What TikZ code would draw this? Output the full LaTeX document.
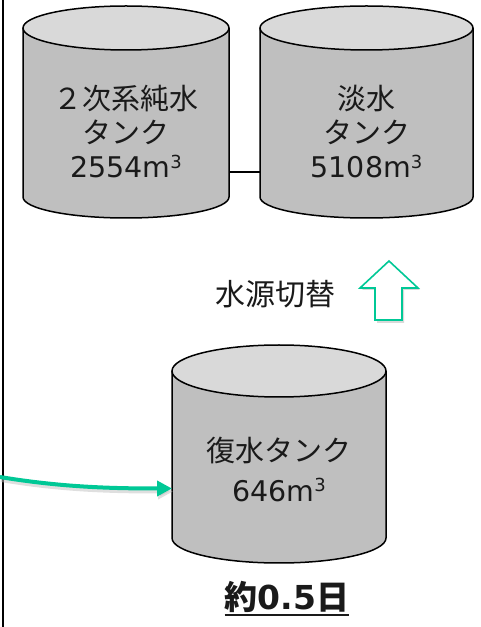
\documentclass[tikz,border=0pt]{standalone}
\usepackage{fontspec}
\setmainfont{Noto Sans CJK JP}
\newfontfamily\lat{DejaVu Sans}
\usetikzlibrary{arrows.meta}
\definecolor{tankbody}{HTML}{BFBFBF}
\definecolor{tanktop}{HTML}{D9D9D9}
\definecolor{mint}{HTML}{00C896}
\definecolor{txt}{HTML}{1A1A1A}
\tikzset{
  tankline/.style={draw=black, line width=1.5pt},
  tanktext/.style={text=txt, align=center, font=\fontsize{29}{34}\selectfont, inner sep=0pt},
  plaintext/.style={text=txt, font=\fontsize{30}{34}\selectfont, inner sep=0pt},
  flowarrow/.style={draw=mint, line width=4pt, -{Triangle[length=15pt,width=15pt]}},
}
\newcommand{\vol}[1]{{\lat\fontsize{28.5}{34}\selectfont #1m\raisebox{0.6ex}{\fontsize{18}{20}\selectfont 3}}}
% #1 name, #2 cx, #3 rx, #4 top cy, #5 top ry, #6 bottom cy, #7 bottom ry
\newcommand{\drawtank}[7]{%
  \fill[tankbody] (#2-#3,#4) -- (#2-#3,#6) arc[start angle=180,end angle=360,x radius=#3,y radius=#7] -- (#2+#3,#4) -- cycle;
  \draw[tankline] (#2-#3,#4) -- (#2-#3,#6) arc[start angle=180,end angle=360,x radius=#3,y radius=#7] -- (#2+#3,#4);
  \draw[tankline, fill=tanktop] (#2,#4) ellipse[x radius=#3, y radius=#5];
  \coordinate (#1-w) at (#2-#3,#6);
  \coordinate (#1-e) at (#2+#3,#6);
}
\begin{document}
\begin{tikzpicture}[x=1pt,y=1pt]
\useasboundingbox (0,0) rectangle (481,627);
% left border line
\coordinate (lt) at (3,627);
\coordinate (lb) at (3,0);
\draw[line width=1.6pt] (lt) -- (lb);
% tanks
\drawtank{t1}{126}{103}{599}{22}{430}{21}
\drawtank{t2}{366.5}{106.5}{599}{22}{430}{21}
\drawtank{t3}{279}{107}{256}{26}{89}{25}
% connector between top tanks
\coordinate (c1) at (229.5,455);
\coordinate (c2) at (259.5,455);
\draw[line width=1.3pt] (c1) -- (c2);
% tank texts
\node[tanktext] (n1) at (126,495) {２次系純水\\タンク\\\vol{2554}};
\node[tanktext] (n2) at (366.5,495) {淡水\\タンク\\\vol{5108}};
\node[tanktext, font=\fontsize{29}{40}\selectfont] (n3) at (279,158) {復水タンク\\\vol{646}};
% switch label and hollow up arrow
\node[plaintext] (sw) at (275,333) {水源切替};
\fill[black, opacity=0.15] (391,364) -- (420,337) -- (404,337) -- (404,304) -- (377,304) -- (377,337) -- (362,337) -- cycle;
\draw[mint, line width=1.6pt, fill=white, line join=miter] (389,366) -- (418,339) -- (402,339) -- (402,307) -- (375,307) -- (375,339) -- (360,339) -- cycle;
% green flow arrow
\coordinate (fs) at (0,150);
\coordinate (fe) at (172,138.5);
\draw[black!25, line width=4pt, opacity=0.5, -{Triangle[length=15pt,width=15pt]}] (1,147) .. controls (60,137) and (110,135.5) .. (173,135.5);
\draw[flowarrow] (fs) .. controls (60,140) and (110,138.5) .. (fe);
% duration
\node[text=txt, font=\fontsize{33}{36}\selectfont\bfseries, inner sep=0pt, anchor=base] (dur) at (287,17) {約{\lat\bfseries 0.5}日};
\draw[txt, line width=2pt] ([yshift=-5pt]dur.base west) -- ([yshift=-5pt]dur.base east);
\end{tikzpicture}
\end{document}
